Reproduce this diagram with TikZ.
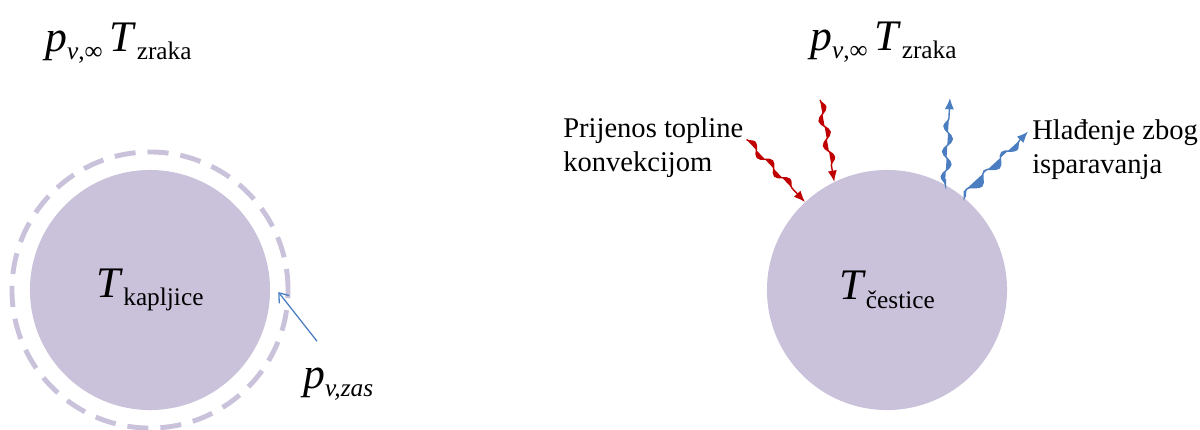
\documentclass[tikz,border=0pt]{standalone}
\usepackage{fontspec}
\setmainfont{Liberation Serif}
\usetikzlibrary{arrows.meta, decorations.pathmorphing}
\definecolor{DropColor}{RGB}{202,193,219}
\definecolor{HeatColor}{RGB}{192,0,0}
\definecolor{VapourColor}{RGB}{74,126,193}

\newcommand{\qsym}[2]{\textit{#1}\raisebox{-6pt}{\fontsize{18}{18}\selectfont #2}}

\begin{document}
\begin{tikzpicture}[
    x=0.025cm, y=-0.025cm,
    blob/.style={
        circle, fill=DropColor, inner sep=0pt, minimum size=6cm,
        font=\fontsize{31}{36}\selectfont
    },
    film/.style={
        circle, draw=DropColor, line width=3.5pt, inner sep=0pt,
        minimum size=6.9cm, dash pattern=on 15pt off 8.5pt
    },
    sym/.style={font=\fontsize{31}{36}\selectfont, inner sep=0pt, anchor=base west},
    note/.style={font=\fontsize{20.3}{23.5}\selectfont, align=left, inner sep=0pt, anchor=base west},
    wave/.style={
        line width=1pt, decorate,
        decoration={snake, amplitude=3.2pt, segment length=18pt, post length=6pt},
        -{Latex[length=8pt, width=6.5pt]}
    },
    heat/.style={wave, draw=HeatColor, fill=HeatColor},
    vapour/.style={wave, draw=VapourColor, fill=VapourColor},
    pointer/.style={draw=VapourColor, line width=0.9pt, -{Straight Barb[length=6pt, width=9pt]}},
]
\useasboundingbox (0,0) rectangle (1200,429);

%% Left: droplet with saturated vapour film
\node[film] (film) at (150,290) {};
\node[blob] (drop) at (150,290) {\qsym{T}{kapljice}};
\node[sym] (airL) at (45,51) {\qsym{p}{\textit{v},∞}\,\qsym{T}{zraka}};
\node[sym] (pzas) at (303,388) {\qsym{p}{\textit{v,zas}}};

\draw[pointer] ([shift={(14,-26)}]pzas.north west) -- ([shift={(8,2)}]drop.east);

%% Right: particle with heat and mass exchange
\node[blob] (particle) at (887,290) {\qsym{T}{čestice}};
\node[sym] (airR) at (810,50) {\qsym{p}{\textit{v},∞}\,\qsym{T}{zraka}};

\node[note] (conv) at (563,171) {Prijenos topline\\konvekcijom};
\node[note] (evap) at (1032,173) {Hlađenje zbog\\isparavanja};

\coordinate (heatTop) at (820,100);
\coordinate (vapTop) at (950,98);

\draw[heat] ([shift={(3,-8)}]conv.east) -- (particle.133);
\draw[heat] (heatTop) -- (particle.116);
\draw[vapour, shorten <=4pt] (particle.61) -- (vapTop);
\draw[vapour, shorten <=5pt] (particle.50) -- ([shift={(-4,-18)}]evap.west);

\end{tikzpicture}
\end{document}
